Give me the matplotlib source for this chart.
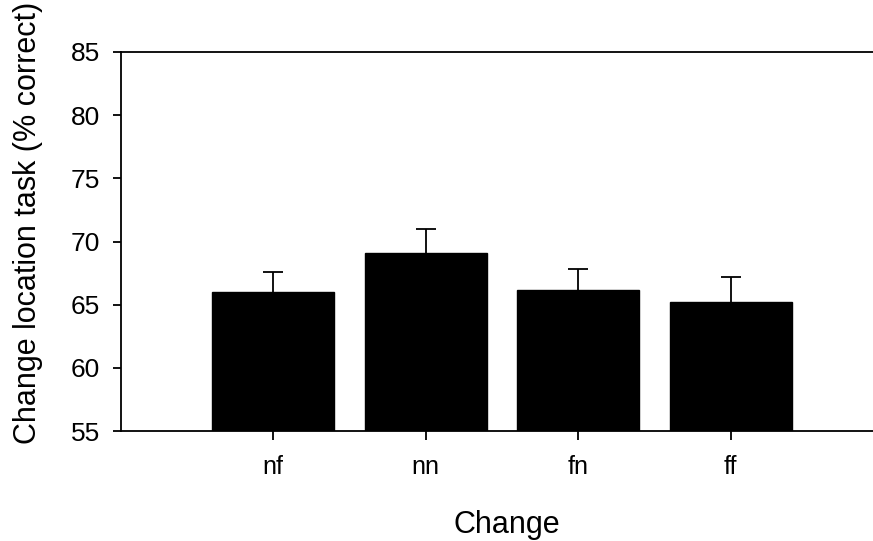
import numpy as np
import matplotlib
matplotlib.use("Agg")
import matplotlib.pyplot as plt

plt.rcParams.update({
    "font.family": ["Liberation Sans", "DejaVu Sans"],
    "font.size": 18,
})

conditions = ["nf", "nn", "fn", "ff"]
pct_correct = [66.0, 69.1, 66.2, 65.2]
sem = [1.6, 1.9, 1.6, 2.0]
y_ticks = [55, 60, 65, 70, 75, 80, 85]

fig = plt.figure(figsize=(8.73, 5.41), dpi=100)
# axes runs slightly past the right edge of the figure
ax = fig.add_axes([0.1383, 0.2033, 0.8734, 0.7006])

x = np.arange(len(conditions))
ax.bar(x, pct_correct, width=0.8, color="black", edgecolor="black", zorder=2)
# symmetric error bars behind the bars, so only the upper half shows
ax.errorbar(x, pct_correct, yerr=sem, fmt="none",
            ecolor="black", elinewidth=1.3, capsize=7.5, capthick=1.3, zorder=1)

ax.set_xlim(-1, 4)
ax.set_ylim(55, 85)
ax.set_yticks(y_ticks)
ax.set_xticks(x)
ax.set_xticklabels(conditions)

ax.spines["right"].set_visible(False)
for side in ["left", "bottom", "top"]:
    ax.spines[side].set_linewidth(1.3)

ax.tick_params(axis="y", direction="out", length=6, width=1.3, pad=9, labelsize=19)
ax.tick_params(axis="x", direction="out", length=6.5, width=1.3, pad=11, labelsize=18)

ax.set_ylabel("Change location task (% correct)", fontsize=22, va="center")
ax.yaxis.set_label_coords(-0.1216, 0.55)
ax.set_xlabel("Change", fontsize=22, va="center")
ax.xaxis.set_label_coords(0.507, -0.248)

fig.savefig("out.png", dpi=100)
